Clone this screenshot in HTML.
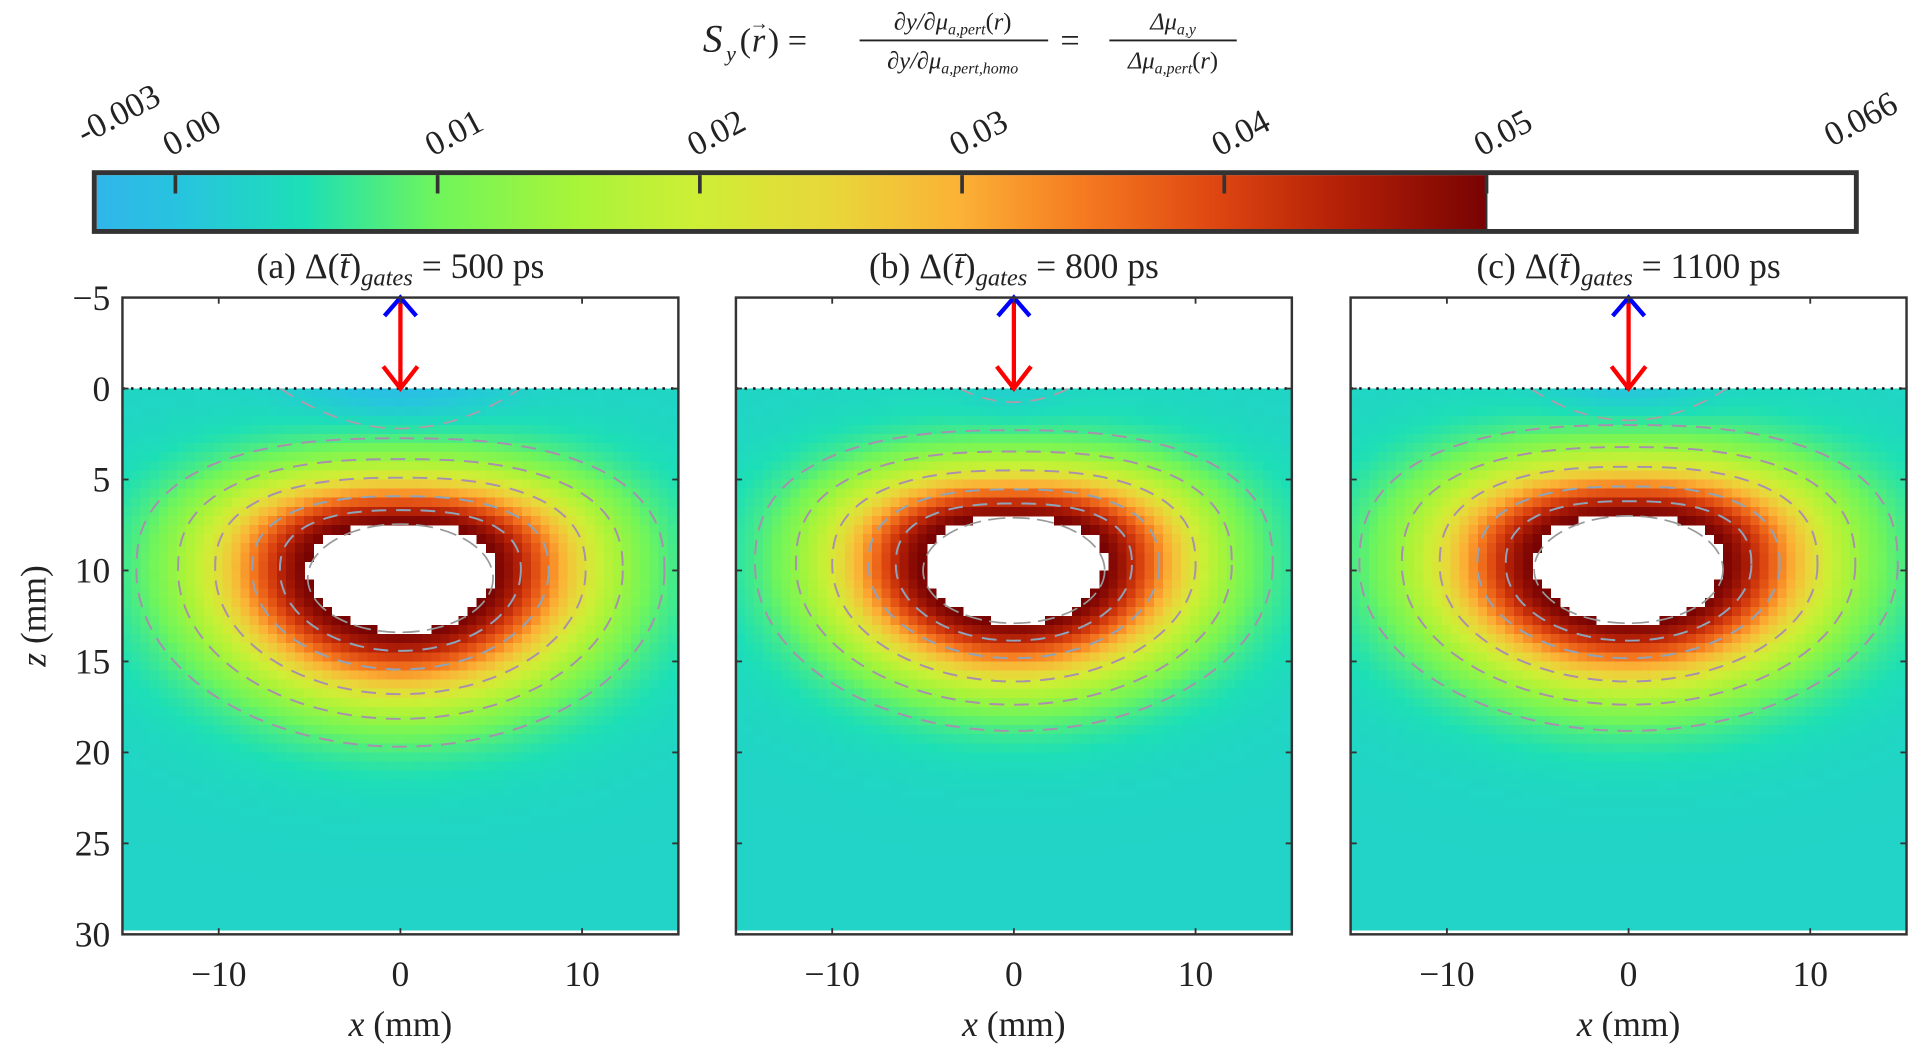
<!DOCTYPE html>
<html><head><meta charset="utf-8"><style>
html,body{margin:0;padding:0;background:#fff;}
svg{display:block;font-family:"Liberation Serif",serif;}
</style></head><body>
<svg id="fig" width="1920" height="1047" viewBox="0 0 1568 855" preserveAspectRatio="none" xmlns="http://www.w3.org/2000/svg">
<defs>
<linearGradient id="cmap" x1="0" x2="1" y1="0" y2="0">
<stop offset="0" stop-color="#30b6ea"/>
<stop offset="0.06" stop-color="#27c4df"/>
<stop offset="0.15" stop-color="#1ddfb6"/>
<stop offset="0.245" stop-color="#6ff55b"/>
<stop offset="0.34" stop-color="#a6f43a"/>
<stop offset="0.43" stop-color="#cdef35"/>
<stop offset="0.53" stop-color="#e9d63a"/>
<stop offset="0.62" stop-color="#fbb236"/>
<stop offset="0.71" stop-color="#f57a20"/>
<stop offset="0.81" stop-color="#dc4410"/>
<stop offset="0.9" stop-color="#b01e06"/>
<stop offset="1" stop-color="#780303"/>
</linearGradient>
</defs>
<g fill="#222" font-style="italic">
<text x="574" y="42" font-size="32">S</text>
<text x="593" y="50" font-size="18">y</text>
<text x="604" y="42" font-size="28" font-style="normal">(</text><text x="614" y="42" font-size="28">r</text><text x="612" y="24" font-size="16" font-style="normal">→</text><text x="627" y="42" font-size="28" font-style="normal">) =</text>
<text x="778" y="24" text-anchor="middle" font-size="20">∂y/∂μ<tspan font-size="13" dy="4">a,pert</tspan><tspan dy="-4" font-style="normal">(</tspan>r<tspan font-style="normal">)</tspan></text>
<line x1="702" x2="856" y1="33" y2="33" stroke="#222" stroke-width="1.5"/>
<text x="778" y="56" text-anchor="middle" font-size="20">∂y/∂μ<tspan font-size="13" dy="4">a,pert,homo</tspan></text>
<text x="866" y="42" font-size="28" font-style="normal">=</text>
<text x="958" y="24" text-anchor="middle" font-size="20">Δμ<tspan font-size="13" dy="4">a,y</tspan></text>
<line x1="906" x2="1010" y1="33" y2="33" stroke="#222" stroke-width="1.5"/>
<text x="958" y="56" text-anchor="middle" font-size="20">Δμ<tspan font-size="13" dy="4">a,pert</tspan><tspan dy="-4" font-style="normal">(</tspan>r<tspan font-style="normal">)</tspan></text>
</g>
<g id="cbar"></g>
<g id="panels"></g>
</svg>
<script>
// colorbar data
const cbTickValues = [0.00, 0.01, 0.02, 0.03, 0.04, 0.05];
const cbTickLabels = ["0.00", "0.01", "0.02", "0.03", "0.04", "0.05"];
const cbMin = -0.003, cbMax = 0.05, cbTop = 0.066;
// panel data
const panelTitles = ["(a)", "(b)", "(c)"];
const gateWidths = ["500", "800", "1100"];
const holeCenterZ = [10.0, 9.7, 9.7];
const holeRx = [5.1, 5.0, 5.2];
const holeRzTop = [2.55, 2.6, 2.7];
const holeRzBot = [3.4, 3.2, 3.2];
const decayScale = [1.1, 1.05, 1.1];
const surfaceDip = [0.0045, 0.0015, 0.0035];
const dipWidth = [5.5, 2.5, 4.5];
const contourLevels = [1.3, 1.6, 2.0, 2.4, 2.85];
const xTicks = [-10, 0, 10];
const zTicks = [-5, 0, 5, 10, 15, 20, 25, 30];
const NPOW = 2.5;

const NS = "http://www.w3.org/2000/svg";
function mk(tag, attrs, parent){const e=document.createElementNS(NS,tag);for(const k in attrs)e.setAttribute(k,attrs[k]);if(parent)parent.appendChild(e);return e;}

const cstops=[[0,[48,182,234]],[0.06,[39,196,223]],[0.15,[29,223,182]],[0.245,[111,245,91]],[0.34,[166,244,58]],[0.43,[205,239,53]],[0.53,[233,214,58]],[0.62,[251,178,54]],[0.71,[245,122,32]],[0.81,[220,68,16]],[0.9,[176,30,6]],[1,[120,3,3]]];
function cmap(v){let t=(v-cbMin)/(cbMax-cbMin);t=Math.max(0,Math.min(1,t));
 for(let i=1;i<cstops.length;i++){if(t<=cstops[i][0]){const a=cstops[i-1],b=cstops[i];const f=(t-a[0])/(b[0]-a[0]);
 const c=a[1].map((x,j)=>Math.round(x+(b[1][j]-x)*f));return `rgb(${c[0]},${c[1]},${c[2]})`;}}return "rgb(120,3,3)";}

// colorbar
const cb=document.getElementById('cbar');
const cbX0=79, cbX1=1214, cbXEnd=1514, cbY0=143, cbY1=187;
function cbScale(v){return cbX0+(v-cbMin)/(cbMax-cbMin)*(cbX1-cbX0);}
let r=mk('rect',{x:cbX0,y:cbY0,width:cbX1-cbX0,height:cbY1-cbY0,fill:'url(#cmap)'},cb);

mk('rect',{x:77,y:141,width:1439,height:48,fill:'none',stroke:'#333','stroke-width':4},cb);
mk('line',{x1:cbX1,x2:cbX1,y1:141,y2:189,stroke:'#333','stroke-width':1.5},cb);
function cbLabel(x,y,txt){const t=mk('text',{x:x-4,y:y,'font-size':28,fill:'#222',transform:`rotate(-28 ${x-4} ${y})`},cb);t.textContent=txt;
 }
cbTickValues.forEach((v,i)=>{const x=cbScale(v);
 const l=mk('line',{x1:x,x2:x,y1:143,y2:158,stroke:'#333','stroke-width':3},cb);
 
 cbLabel(x,128,cbTickLabels[i]);});
cbLabel(cbX0-6,118,String(cbMin));
cbLabel(cbXEnd-14,120,String(cbTop));

// panels
const panelX=[100,601,1103], pW=454, pY0=243, pY1=763;
const xMin=-15.3, xMax=15.3, zMin=-5, zMax=30;
const P=document.getElementById('panels');
function rnorm(p,x,z){const dz=z-holeCenterZ[p];const az=dz<0?holeRzTop[p]:holeRzBot[p];
 const nn=dz<0?NPOW:2.0;
 return Math.pow(Math.pow(Math.abs(x/holeRx[p]),nn)+Math.pow(Math.abs(dz/az),nn),1/nn);}
function field(p,x,z){const rr=rnorm(p,x,z);
 if(rr<1) return null;
 let v=0.003+0.047*Math.exp(-Math.pow((rr-1)/decayScale[p],1.5));
 v-=surfaceDip[p]*Math.exp(-(x*x)/(dipWidth[p]*dipWidth[p])-(z*z)/3);
 return v;}
panelX.forEach((px,p)=>{
 const g=mk('g',{},P);
 const sx=x=>px+(x-xMin)/(xMax-xMin)*pW, sz=z=>pY0+(z-zMin)/(zMax-zMin)*(pY1-pY0);
 const cp=mk('clipPath',{id:'clip'+p},g);mk('rect',{x:px,y:pY0,width:pW,height:pY1-pY0},cp);
 const inner=mk('g',{'clip-path':`url(#clip${p})`},g);
 const hm=mk('g',{'shape-rendering':'crispEdges'},inner);
 const d=0.5;
 for(let i=0;i<62;i++){const x=xMin+i*d;for(let j=0;j<60;j++){const z=j*d;
  const v=field(p,x+d/2,z+d/2);if(v===null)continue;
  const zb=Math.min(z+d,29.8);
  mk('rect',{x:sx(x).toFixed(2),y:sz(z).toFixed(2),width:(sx(x+d)-sx(x)+0.6).toFixed(2),height:(sz(zb)-sz(z)+(zb<29.8?0.6:0)).toFixed(2),fill:cmap(v)},hm);
 }}
 contourLevels.forEach((L,i)=>{let pts=[];
  for(let a=0;a<=360;a+=3){const t=a*Math.PI/180;const c=Math.cos(t),s=Math.sin(t);
   const az=s<0?holeRzTop[p]:holeRzBot[p];
   const nn=s<0?NPOW:2.0;
   const sc=Math.sign(c)*Math.pow(Math.abs(c),2/nn), ss=Math.sign(s)*Math.pow(Math.abs(s),2/nn);
   const x=L*holeRx[p]*sc, z=holeCenterZ[p]+L*az*ss;
   pts.push(sx(x).toFixed(1)+','+sz(z).toFixed(1));}
  const pl=mk('polyline',{points:pts.join(' '),fill:'none',stroke:i<2?'#8ea4ba':'#a88fae','stroke-width':1.6,'stroke-dasharray':'12 8'},inner);
  });
 const hc=mk('ellipse',{cx:sx(0),cy:sz(holeCenterZ[p]+(holeRzBot[p]-holeRzTop[p])/2),rx:holeRx[p]*pW/(xMax-xMin),ry:(holeRzTop[p]+holeRzBot[p])/2*(pY1-pY0)/35,fill:'none',stroke:'#999','stroke-width':1.4,'stroke-dasharray':'14 6'},inner);
 const dw=dipWidth[p]*1.2, dd=Math.min(2.2,surfaceDip[p]*500);
 const dp=mk('path',{d:`M${sx(-dw)},${sz(0)} Q${sx(0)},${sz(dd*2)} ${sx(dw)},${sz(0)}`,fill:'none',stroke:'#b49aa8','stroke-width':1.4,'stroke-dasharray':'12 8'},inner);
 
 mk('line',{x1:px,x2:px+pW,y1:sz(0),y2:sz(0),stroke:'#111','stroke-width':2,'stroke-dasharray':'2 5'},inner);
 const ar=mk('g',{},g);
 mk('line',{x1:sx(0),x2:sx(0),y1:sz(-5)+3,y2:sz(0),stroke:'#f00','stroke-width':3.5},ar);
 mk('polyline',{points:`${sx(0)-14},${sz(0)-18} ${sx(0)},${sz(0)} ${sx(0)+14},${sz(0)-18}`,fill:'none',stroke:'#f00','stroke-width':3.5},ar);
 mk('polyline',{points:`${sx(0)-13},${sz(-5)+15} ${sx(0)},${sz(-5)} ${sx(0)+13},${sz(-5)+15}`,fill:'none',stroke:'#00f','stroke-width':3.5},ar);
 const bx=mk('rect',{x:px,y:pY0,width:pW,height:pY1-pY0,fill:'none',stroke:'#333','stroke-width':2},g);
 
 xTicks.forEach(t=>{const x=sx(t);mk('line',{x1:x,x2:x,y1:pY1,y2:pY1-5,stroke:'#333','stroke-width':1.5},g);mk('line',{x1:x,x2:x,y1:pY0,y2:pY0+5,stroke:'#333','stroke-width':1.5},g);
  const tl=mk('text',{x:x,y:805,'text-anchor':'middle','font-size':29,fill:'#222'},g);tl.textContent=t<0?'\u2212'+(-t):String(t);
  });
 zTicks.forEach(t=>{const y=sz(t);mk('line',{x1:px,x2:px+5,y1:y,y2:y,stroke:'#333','stroke-width':1.5},g);mk('line',{x1:px+pW,x2:px+pW-5,y1:y,y2:y,stroke:'#333','stroke-width':1.5},g);
  if(p===0){const tl=mk('text',{x:px-10,y:y+10,'text-anchor':'end','font-size':29,fill:'#222'},g);tl.textContent=t<0?'\u2212'+(-t):String(t);
  }});
 const xl=mk('text',{x:px+pW/2,y:846,'text-anchor':'middle','font-size':29,fill:'#222'},g);
 xl.innerHTML='<tspan font-style="italic">x</tspan> (mm)';
 const tt=mk('text',{x:px+pW/2,y:227,'text-anchor':'middle','font-size':29,fill:'#222'},g);
 tt.innerHTML=panelTitles[p]+' Δ(<tspan font-style="italic">t̄</tspan>)<tspan font-style="italic" font-size="20" dy="6">gates</tspan><tspan dy="-6"> = '+gateWidths[p]+' ps</tspan>';
 
});
const yl=mk('text',{x:0,y:0,'text-anchor':'middle','font-size':29,fill:'#222',transform:'translate(37 503) rotate(-90)'},P);
yl.innerHTML='<tspan font-style="italic">z</tspan> (mm)';
</script>
</body></html>
